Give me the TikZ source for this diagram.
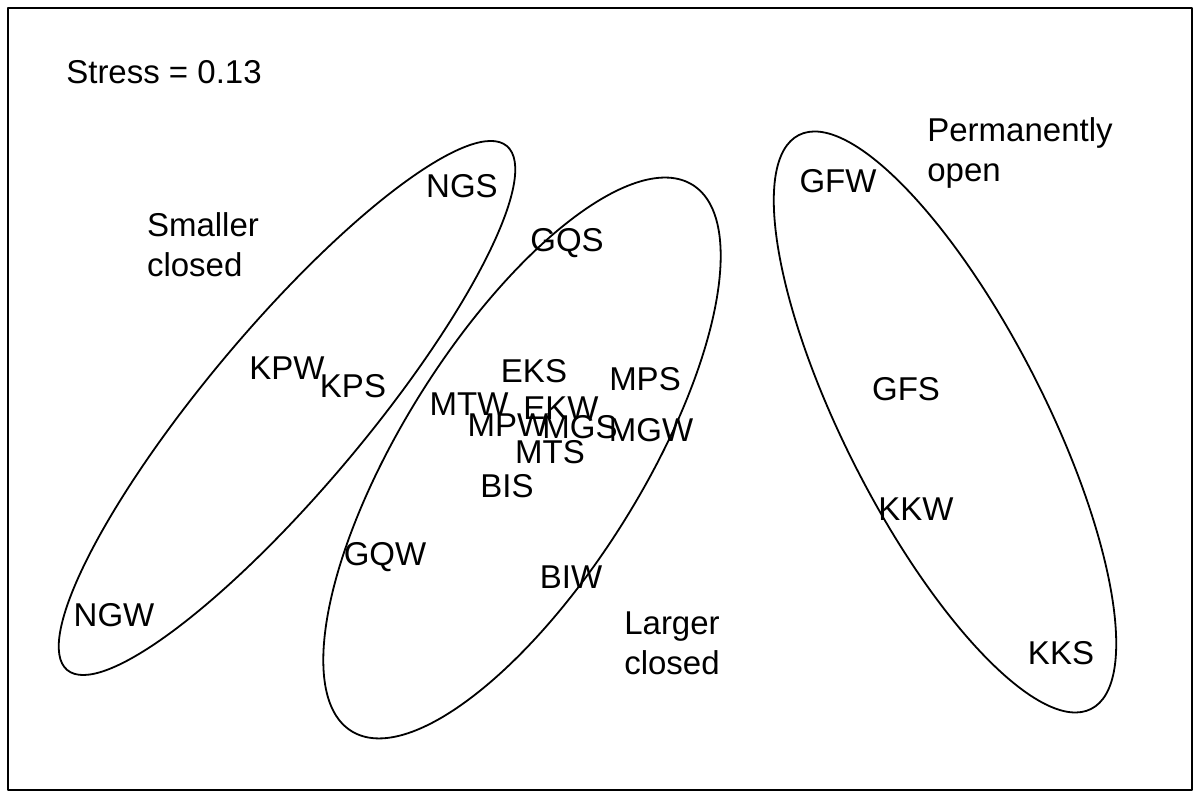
\documentclass[tikz,border=0pt]{standalone}
\usepackage{fontspec}
\setmainfont{Liberation Sans}

\begin{document}
\begin{tikzpicture}[line cap=round,line join=round,x=0.5pt,y=0.5pt,
  lbl/.style={font=\fontsize{16.5}{20}\selectfont,inner sep=0pt},
  grp/.style={font=\fontsize{16.5}{20}\selectfont,inner sep=0pt,align=left}]

\useasboundingbox (0,0) rectangle (1200,796);
\draw [line width=0.6pt] (8,6) rectangle (1192,788);

\draw [line width=0.9pt,rotate around={50:(287,388)}] (287,388) ellipse (342 and 80);
\draw [line width=0.9pt,rotate around={58:(522,338)}] (522,338) ellipse (322 and 120);
\draw [line width=0.9pt,rotate around={-63:(945,374)}] (945,374) ellipse (322 and 100);

\node [lbl] (stress) at (164,724) {Stress = 0.13};
\node [grp] (smaller) at (203,551) {Smaller\\closed};
\node [grp] (larger) at (672,153) {Larger\\closed};
\node [grp] (perm) at (1020,643) {Permanently\\open};

\node [lbl] (ngs) at (462,610) {NGS};
\node [lbl] (gqs) at (567,553) {GQS};
\node [lbl] (kpw) at (287,428) {KPW};
\node [lbl] (kps) at (353,410) {KPS};
\node [lbl] (eks) at (534,425) {EKS};
\node [lbl] (mps) at (645,417) {MPS};
\node [lbl] (mtw) at (469,392) {MTW};
\node [lbl] (ekw) at (561,388) {EKW};
\node [lbl] (mpw) at (508,371) {MPW};
\node [lbl] (mgs) at (580,369) {MGS};
\node [lbl] (mgw) at (651,366) {MGW};
\node [lbl] (mts) at (550,344) {MTS};
\node [lbl] (bis) at (507,310) {BIS};
\node [lbl] (gqw) at (385,239) {GQW};
\node [lbl] (biw) at (571,219) {BIW};
\node [lbl] (ngw) at (114,181) {NGW};
\node [lbl] (gfw) at (838,615) {GFW};
\node [lbl] (gfs) at (906,407) {GFS};
\node [lbl] (kkw) at (916,287) {KKW};
\node [lbl] (kks) at (1061,143) {KKS};

\end{tikzpicture}
\end{document}
